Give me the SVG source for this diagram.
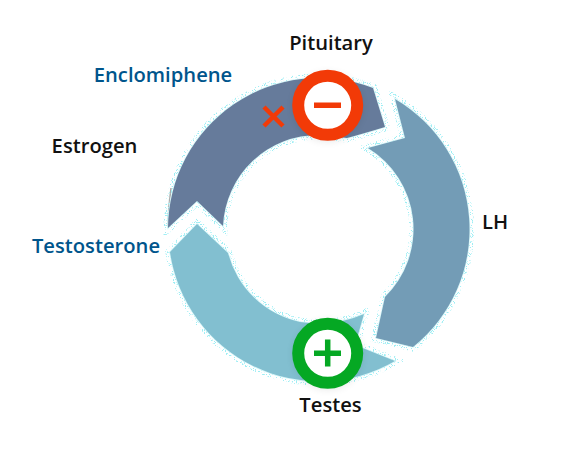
<svg xmlns="http://www.w3.org/2000/svg" width="582" height="464" viewBox="0 0 582 464">
<defs>
<style>
text{font-family:"Open Sans","Noto Sans",sans-serif;font-size:20.2px;font-weight:600;fill:#111}
.b{fill:#00558c}
.halo{fill:none;stroke:#9deef4;stroke-width:9}
.halo2{fill:none;stroke:#d8f8fa;stroke-width:1.5}
.ring{fill:#fff;stroke-width:12}
</style>
<filter id="rough" x="-10%" y="-10%" width="120%" height="120%" color-interpolation-filters="sRGB">
<feTurbulence type="fractalNoise" baseFrequency="0.9" numOctaves="2" seed="4" result="n"/>
<feColorMatrix in="n" type="matrix" values="0 0 0 0 0 0 0 0 0 0 0 0 0 0 0 1 0 0 0 0" result="a0"/>
<feComponentTransfer in="a0" result="a"><feFuncA type="linear" slope="10" intercept="-5.6"/></feComponentTransfer>
<feComposite in="SourceGraphic" in2="a" operator="in"/>
</filter>
<filter id="soft" x="-30%" y="-30%" width="160%" height="160%"><feGaussianBlur stdDeviation="4"/></filter>
<path id="a1" d="M168 228A151 151 0 0 1 373 88L385 127Q362 134 347 138Q330 136 319 135A95 95 0 0 0 223 226L197 201Z"/>
<path id="a2" d="M395 99A151 151 0 0 1 413 347L376 338L385 297A95 95 0 0 0 368 148L405 138Z"/>
<path id="a3" d="M197 224L228 253A95 95 0 0 0 300 322Q335 327 364 314L355 345L395 361A151 151 0 0 1 170 252Z"/>
</defs>
<path d="M171 188Q168 208 168 228" fill="none" stroke="#aaa" stroke-width="1.5"/>
<g id="connectors">
<g filter="url(#rough)">
<use href="#a1" class="halo"/><use href="#a2" class="halo"/><use href="#a3" class="halo"/>
</g>
<use href="#a1" class="halo2"/><use href="#a2" class="halo2"/><use href="#a3" class="halo2"/>
<use id="arrow-estrogen" href="#a1" fill="#667b9b"/>
<use id="arrow-lh" href="#a2" fill="#739cb6"/>
<use id="arrow-testosterone" href="#a3" fill="#82bfd0"/>
</g>
<g id="node-inhibit">
<circle cx="327.7" cy="107" r="34" fill="#000" opacity=".1" filter="url(#soft)"/>
<circle cx="327.7" cy="105.3" r="29.5" class="ring" stroke="#f23a07"/>
<rect x="314" y="102.5" width="27" height="5.5" fill="#f23a07"/>
</g>
<g id="node-stimulate">
<circle cx="327.7" cy="355" r="34" fill="#000" opacity=".1" filter="url(#soft)"/>
<circle cx="327.7" cy="353.3" r="29.5" class="ring" stroke="#05a823"/>
<path d="M314 353.3H341M327.7 339.5V366.5" fill="none" stroke="#05a823" stroke-width="5.5"/>
</g>
<g id="node-block"><path d="M264 107L283 126M283 107L264 126" fill="none" stroke="#f23a07" stroke-width="4.5"/></g>
<g id="labels">
<text id="label-pituitary" x="331" y="50" text-anchor="middle">Pituitary</text>
<text id="label-enclomiphene" x="163" y="82" text-anchor="middle" class="b">Enclomiphene</text>
<text id="label-estrogen" x="94.5" y="153" text-anchor="middle">Estrogen</text>
<text id="label-lh" x="495" y="229" text-anchor="middle">LH</text>
<text id="label-testosterone" x="96" y="253" text-anchor="middle" class="b">Testosterone</text>
<text id="label-testes" x="330.5" y="412" text-anchor="middle">Testes</text>
</g>
</svg>
